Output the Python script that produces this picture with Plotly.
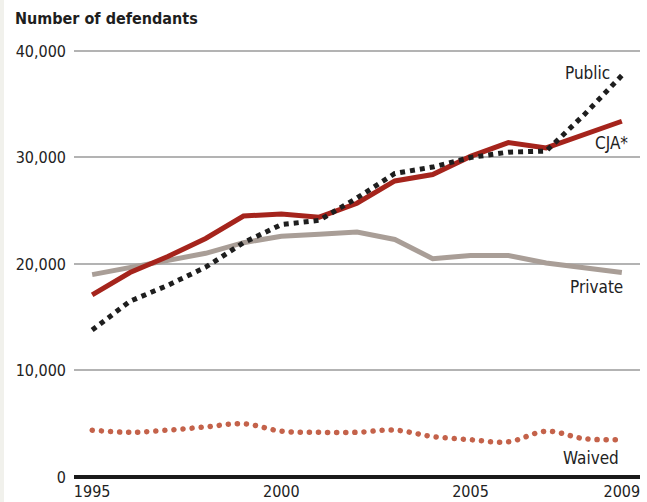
import plotly.graph_objects as go

years = list(range(1995, 2010))
public = [13.8, 16.5, 18.0, 19.7, 22.0, 23.7, 24.1, 26.2, 28.5, 29.1, 30.0, 30.5, 30.6, 34.0, 37.7]
cja = [17.1, 19.2, 20.7, 22.4, 24.5, 24.7, 24.4, 25.7, 27.8, 28.4, 30.1, 31.4, 30.9, 32.1, 33.4]
private = [19.0, 19.7, 20.4, 21.0, 22.0, 22.6, 22.8, 23.0, 22.3, 20.5, 20.8, 20.8, 20.1, 19.7, 19.2]
waived = [4.4, 4.2, 4.4, 4.7, 5.0, 4.3, 4.2, 4.2, 4.4, 3.8, 3.5, 3.3, 4.3, 3.6, 3.5]

public = [v * 1000 for v in public]
cja = [v * 1000 for v in cja]
private = [v * 1000 for v in private]
waived = [v * 1000 for v in waived]

tick_vals_x = [1995, 2000, 2005, 2009]
tick_vals_y = [0, 10000, 20000, 30000, 40000]
tick_text_y = ["0", "10,000", "20,000", "30,000", "40,000"]

FONT = "DejaVu Sans Condensed, Liberation Sans Narrow, sans-serif"
WAIVED_COLOR = "#c4624a"

# plot area in pixels: left 74, right 640, top 45, bottom 477
L, R, T, B = 74, 7, 45, 25
PW, PH = 647 - L - R, 502 - T - B

fig = go.Figure()
fig.add_trace(go.Scatter(x=years, y=private, mode="lines",
                         line=dict(color="#a99e97", width=5), hoverinfo="skip"))
fig.add_trace(go.Scatter(x=years, y=waived, mode="lines", line_shape="spline",
                         line=dict(color=WAIVED_COLOR, width=5.5, dash="1px,8px"), hoverinfo="skip"))
fig.add_trace(go.Scatter(x=years, y=cja, mode="lines",
                         line=dict(color="#a5241c", width=5), hoverinfo="skip"))
fig.add_trace(go.Scatter(x=years, y=public, mode="lines",
                         line=dict(color="#1e1e1e", width=5, dash="dot"), hoverinfo="skip"))

labels = [
    ("Public", 2008.73, 37900),
    ("CJA*", 2009.21, 31400),
    ("Private", 2009.08, 17800),
    ("Waived", 2008.97, 1800),
]
for txt, lx, ly in labels:
    fig.add_annotation(x=lx, y=ly, text=txt, showarrow=False, xanchor="right", yanchor="middle",
                       font=dict(family=FONT, size=17, color="#222"))

fig.add_annotation(x=(13 - L) / PW, y=(502 - B - 18) / PH, xref="paper", yref="paper",
                   text="<b>Number of defendants</b>", showarrow=False,
                   xanchor="left", yanchor="middle",
                   font=dict(family=FONT, size=16, color="#1e1e1e"))

fig.add_shape(type="rect", xref="paper", yref="paper", x0=-L / PW, x1=(4 - L) / PW,
              y0=-B / PH, y1=(502 - B) / PH,
              fillcolor="#f1f1ec", line_width=0, layer="below")

fig.update_layout(
    width=647, height=502,
    margin=dict(l=L, r=R, t=T, b=B),
    paper_bgcolor="white", plot_bgcolor="white",
    showlegend=False,
    font=dict(family=FONT, size=16, color="#222"),
    xaxis=dict(range=[1994.52, 2009.48], tickvals=tick_vals_x, showgrid=False,
               zeroline=False, showline=False, ticks="", tickfont=dict(size=16),
               ticklabelstandoff=3, automargin=False),
    yaxis=dict(range=[0, 40560], tickvals=tick_vals_y, ticktext=tick_text_y,
               showgrid=True, gridcolor="#b3b3b3", gridwidth=1.5,
               zeroline=True, zerolinecolor="#1a1a1a", zerolinewidth=3.5,
               showline=False, ticks="", ticklabelstandoff=7, tickfont=dict(size=16),
               automargin=False),
)

post = """
document.body.style.margin = '0';
document.body.style.padding = '0';
document.querySelectorAll('.scatterlayer .js-line').forEach(function(p){
  var s = p.style.stroke || '';
  if (s.indexOf('196, 98, 74') >= 0) {
    p.style.strokeLinecap = 'round';
    p.style.strokeDasharray = '0.1px,9px';
  }
});
"""
fig.write_html("out.html", post_script=post, config={"displayModeBar": False})
